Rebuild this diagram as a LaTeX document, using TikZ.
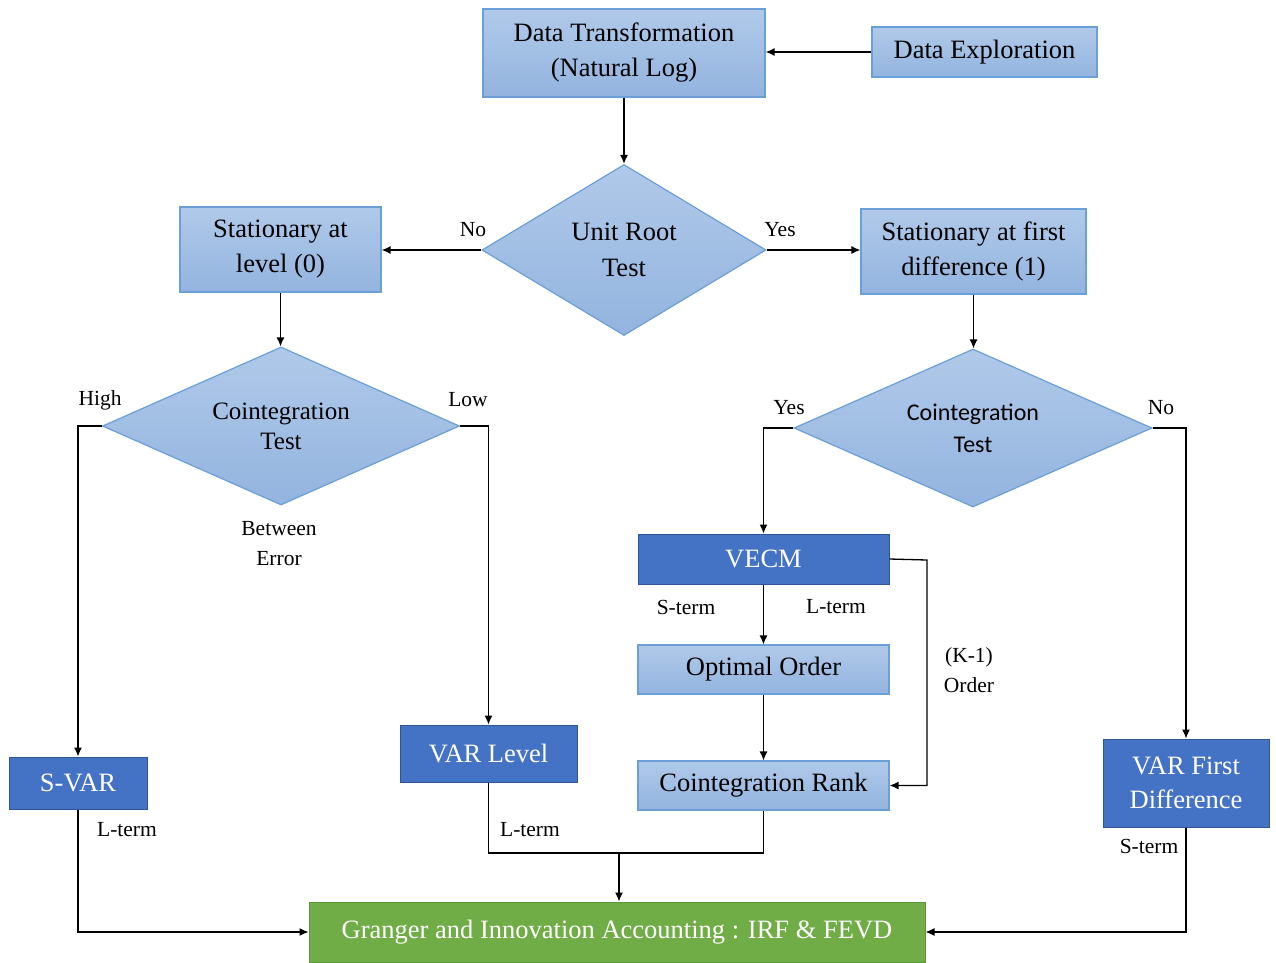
\documentclass[tikz,border=0pt]{standalone}
\usepackage{fontspec}
\setmainfont{Liberation Serif}
\newfontfamily\sansf{Carlito}
\usetikzlibrary{shapes.geometric,arrows.meta}
\definecolor{lbtop}{HTML}{B0C9E9}
\definecolor{lbbot}{HTML}{93B4DF}
\definecolor{lbline}{HTML}{6A9FD8}
\definecolor{dblue}{HTML}{4472C4}
\definecolor{dbline}{HTML}{2F5597}
\definecolor{gfill}{HTML}{70AD47}
\definecolor{gline}{HTML}{5A9A35}
\tikzset{
  lbox/.style={rectangle, draw=lbline, line width=1.2pt, top color=lbtop, bottom color=lbbot, align=center, inner sep=0pt, font=\fontsize{26.5}{35}\selectfont},
  dbox/.style={rectangle, draw=dbline, line width=1pt, fill=dblue, text=white, align=center, inner sep=0pt, font=\fontsize{26.5}{35}\selectfont},
  gbox/.style={rectangle, draw=gline, line width=1pt, fill=gfill, text=white, align=center, inner sep=0pt, font=\fontsize{26.5}{35}\selectfont},
  dia/.style={diamond, aspect=2.2, draw=lbline, line width=1.2pt, top color=lbtop, bottom color=lbbot, align=center, inner sep=0pt, font=\fontsize{25}{30}\selectfont},
  lbl/.style={align=center, inner sep=0pt, font=\fontsize{21.5}{30}\selectfont},
  arr/.style={line width=1.3pt, -{Latex[length=9pt,width=8pt]}},
  ln/.style={line width=1.3pt}
}
\begin{document}
\begin{tikzpicture}[x=1pt,y=-1pt]
\useasboundingbox[fill=white] (0,0) rectangle (1276,962);
% boxes
\node[lbox, minimum width=282pt, minimum height=88pt] (dtrans) at (624,53) {Data Transformation\\(Natural Log)};
\node[lbox, minimum width=225pt, minimum height=50pt] (dexp) at (984.5,52) {Data Exploration};
\node[dia, aspect=1.66, minimum width=284pt, minimum height=171pt, font=\fontsize{26.5}{36}\selectfont] (unit) at (624,250) {Unit Root\\Test};
\node[lbox, minimum width=201pt, minimum height=85pt] (slev) at (280.5,249.5) {Stationary at\\level (0)};
\node[lbox, minimum width=225pt, minimum height=85pt] (sfirst) at (973.5,251.5) {Stationary at first\\difference (1)};
\node[dia, minimum width=357pt, minimum height=158pt] (cl) at (281,426) {Cointegration\\Test};
\node[dia, minimum width=358pt, minimum height=158pt, font=\sansf\fontsize{24}{32}\selectfont] (cr) at (973,428) {Cointegration\\Test};
\node[dbox, minimum width=251pt, minimum height=50pt] (vecm) at (763.5,559) {VECM};
\node[lbox, minimum width=251pt, minimum height=49pt] (opt) at (763.5,669.5) {Optimal Order};
\node[lbox, minimum width=251pt, minimum height=49pt] (crank) at (763.5,785.5) {Cointegration Rank};
\node[dbox, minimum width=138pt, minimum height=52pt] (svar) at (78,783) {S-VAR};
\node[dbox, minimum width=177pt, minimum height=57pt] (varl) at (488.5,753.5) {VAR Level};
\node[dbox, minimum width=166pt, minimum height=88pt, font=\fontsize{26.5}{34}\selectfont] (varf) at (1186,783) {VAR First\\Difference};
\node[gbox, minimum width=616pt, minimum height=60pt] (granger) at (617,932) {Granger and Innovation Accounting : IRF \& FEVD};
% labels
\node[lbl] (lno1) at (473,230) {No};
\node[lbl] (lyes1) at (780,230) {Yes};
\node[lbl] (lhigh) at (100,400) {High};
\node[lbl] (llow) at (468,400) {Low};
\node[lbl] (lbetw) at (279,544) {Between\\Error};
\node[lbl] (lyes2) at (789,408) {Yes};
\node[lbl] (lno2) at (1161,408) {No};
\node[lbl] (lst1) at (686,607) {S-term};
\node[lbl] (llt1) at (836,607) {L-term};
\node[lbl] (lk) at (969,670) {(K-1)\\Order};
\node[lbl] (llt2) at (127,830) {L-term};
\node[lbl] (llt3) at (530,830) {L-term};
\node[lbl] (lst2) at (1149,846) {S-term};
% connectors
\draw[arr] (dexp.west) -- (dexp.west -| dtrans.east);
\draw[arr] (dtrans.south) -- (unit.north);
\draw[arr] (unit.west) -- (unit.west -| slev.east);
\draw[arr] (unit.east) -- (unit.east -| sfirst.west);
\draw[arr] (slev.south) -- (slev.south |- cl.north);
\draw[arr] (sfirst.south) -- (sfirst.south |- cr.north);
\draw[arr] (cl.west) -| (svar.north);
\draw[arr] (cl.east) -| (varl.north);
\draw[arr] (cr.west) -| (vecm.north);
\draw[arr] (cr.east) -| (varf.north);
\draw[arr] (vecm.south) -- (opt.north);
\draw[arr] (opt.south) -- (crank.north);
\coordinate (kc) at (927,560);
\draw[arr] (vecm.east) -- (kc) |- (crank.east);
\draw[arr] (svar.south) |- (granger.west);
\draw[arr] (varf.south) |- (granger.east);
\coordinate (j) at (619,853);
\draw[ln] (varl.south) |- (j) -| (crank.south);
\draw[arr] (j) -- (j |- granger.north);
\end{tikzpicture}
\end{document}
